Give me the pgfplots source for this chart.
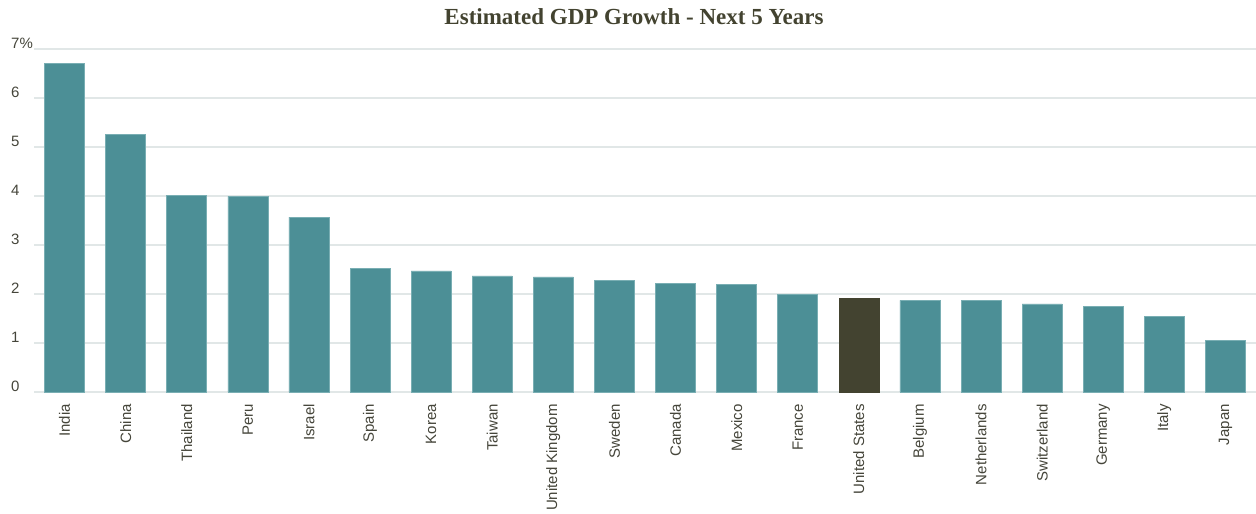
\documentclass[border=0pt]{standalone}
\usepackage{pgfplots}
\pgfplotsset{compat=1.18}
\usepackage{fontspec}
\setmainfont{Liberation Sans}
\newfontfamily\titlefont{Liberation Serif}
\definecolor{teal}{HTML}{4C8F96}
\definecolor{tealedge}{HTML}{79AEB3}
\definecolor{usbar}{HTML}{434330}
\definecolor{txt}{HTML}{45453A}
\definecolor{gridc}{HTML}{E1E7E7}
\begin{document}
\begin{tikzpicture}
\useasboundingbox (-34pt,-122pt) rectangle (1222pt,392pt);
\begin{axis}[
  scale only axis,
  width=1222pt, height=343pt,
  xmin=-0.5, xmax=19.5,
  ymin=0, ymax=7,
  ytick={0,1,2,3,4,5,6,7},
  yticklabels={0,1,2,3,4,5,6,7\%},
  xtick={0,...,19},
  xticklabels={India,China,Thailand,Peru,Israel,Spain,Korea,Taiwan,United Kingdom,Sweden,Canada,Mexico,France,United States,Belgium,Netherlands,Switzerland,Germany,Italy,Japan},
  axis line style={draw=none},
  major tick length=0pt,
  ymajorgrids,
  grid style={gridc, line width=1.6pt},
  /pgf/number format/assume math mode=true,
  tick label style={font=\fontsize{15}{18}\selectfont, text=txt},
  yticklabel style={anchor=west, inner sep=0pt, xshift=-23pt, yshift=6pt},
  xticklabel style={rotate=90, anchor=east, inner sep=0pt, xshift=-12pt},
  title={Estimated GDP Growth - Next 5 Years},
  title style={font=\titlefont\bfseries\fontsize{23}{26}\selectfont, text=usbar, at={(0.5,1)}, anchor=base, yshift=19pt, xshift=-11pt},
  ybar, bar width=40pt, bar shift=0pt,
  clip=false,
]
\addplot[fill=teal, draw=tealedge, line width=0.6pt] coordinates {
 (0,6.71) (1,5.26) (2,4.01) (3,3.99) (4,3.57) (5,2.53) (6,2.47) (7,2.37) (8,2.35) (9,2.27) (10,2.22) (11,2.20) (12,1.99) (14,1.87) (15,1.87) (16,1.80) (17,1.75) (18,1.54) (19,1.06)
};
\addplot[fill=usbar, draw=usbar, line width=0.6pt] coordinates {(13,1.92)};
\end{axis}
\end{tikzpicture}
\end{document}
